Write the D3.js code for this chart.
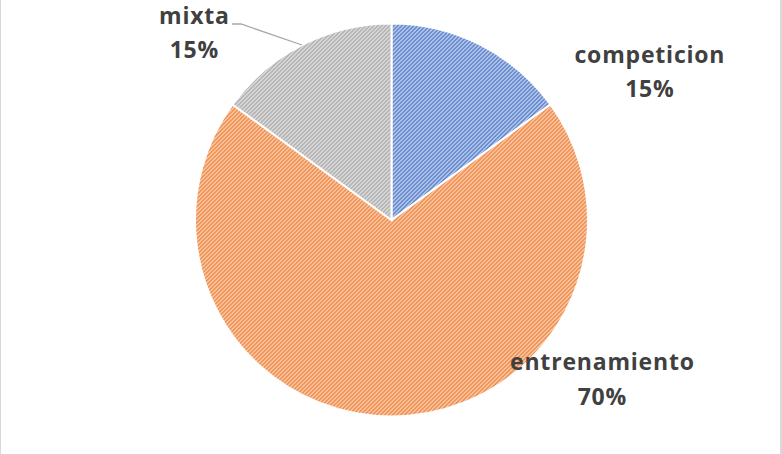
<!DOCTYPE html>
<html><head><meta charset="utf-8">
<script src="https://cdn.jsdelivr.net/npm/d3@7"></script>
<style>body{margin:0;background:#fff}svg{display:block}</style>
</head><body>
<svg id="c" width="782" height="454"></svg>
<script>
const categories = ["competicion", "entrenamiento", "mixta"];
const values = [15, 70, 15];
const colors = ["#4472C4", "#ED7D31", "#A5A5A5"];
const tints = ["#cfdaf1", "#fad7bf", "#e4e4e4"];

const svg = d3.select("#c");
const cx = 391.5, cy = 220, r = 196.5;

const defs = svg.append("defs");
categories.forEach((c, i) => {
  const p = defs.append("pattern").attr("id", "pat" + i)
    .attr("patternUnits", "userSpaceOnUse").attr("width", 4).attr("height", 4);
  p.append("rect").attr("width", 4).attr("height", 4).attr("fill", tints[i]);
  p.append("path").attr("d", "M-1,1 L1,-1 M0,4 L4,0 M3,5 L5,3")
    .attr("stroke", colors[i]).attr("stroke-width", 1.5).attr("opacity", 0.95);
});

// frame
svg.append("rect").attr("x", 0).attr("y", -5).attr("width", 781).attr("height", 470)
  .attr("fill", "none").attr("stroke", "#d9d9d9").attr("stroke-width", 2);

const pie = d3.pie().sort(null).value(d => d)(values);
const arc = d3.arc().innerRadius(0).outerRadius(r);
const g = svg.append("g").attr("transform", `translate(${cx},${cy})`);
g.selectAll("path").data(pie).join("path")
  .attr("d", arc).attr("fill", (d, i) => `url(#pat${i})`)
  .attr("stroke", "#fff").attr("stroke-width", 2);

// labels
const labelPos = [
  {x: 649.5, y1: 63, y2: 97},
  {x: 602, y1: 370, y2: 405},
  {x: 194, y1: 24, y2: 58}
];
const font = "'Open Sans', sans-serif";
categories.forEach((c, i) => {
  const lp = labelPos[i];
  const t = svg.append("text").attr("text-anchor", "middle")
    .attr("font-family", font).attr("font-weight", "bold").attr("font-size", 23)
    .attr("letter-spacing", 0.8)
    .attr("fill", "#404040");
  t.append("tspan").attr("x", lp.x + 0.4).attr("y", lp.y1).text(c);
  t.append("tspan").attr("x", lp.x + 0.4).attr("y", lp.y2).text(values[i] + "%");
});

// leader line for mixta
svg.append("polyline").attr("points", "232,24 241,24 302,45")
  .attr("fill", "none").attr("stroke", "#a6a6a6").attr("stroke-width", 1.3);
</script>
</body></html>
